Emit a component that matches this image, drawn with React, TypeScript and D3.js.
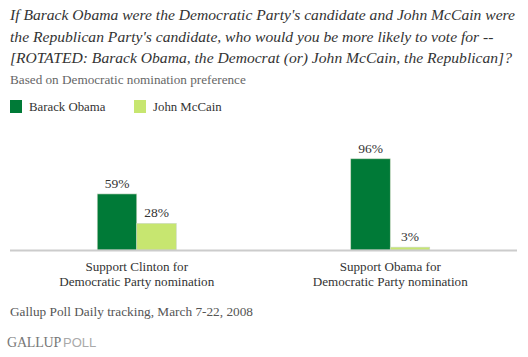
import React from "react";
import * as d3 from "d3";

const categories = [
  ["Support Clinton for", "Democratic Party nomination"],
  ["Support Obama for", "Democratic Party nomination"],
];
const seriesNames = ["Barack Obama", "John McCain"];
const obamaValues = [59, 96];
const mccainValues = [28, 3];
const colors = ["#007A37", "#C7E670"];
const titleLines = [
  "If Barack Obama were the Democratic Party's candidate and John McCain were",
  "the Republican Party's candidate, who would you be more likely to vote for --",
  "[ROTATED: Barack Obama, the Democrat (or) John McCain, the Republican]?",
];
const subtitle = "Based on Democratic nomination preference";
const footnote = "Gallup Poll Daily tracking, March 7-22, 2008";

const W = 528;
const H = 357;
const serif = "'Liberation Serif', 'Times New Roman', serif";

export default function App() {
  const x0 = d3.scaleBand<number>().domain([0, 1]).range([10, 517]);
  const x1 = d3.scaleBand<number>().domain([0, 1]).range([0, 79]);
  const y = d3.scaleLinear().domain([0, 100]).range([250, 155]);
  const series = [obamaValues, mccainValues];

  return (
    <svg width={W} height={H} style={{ position: "absolute", left: 0, top: 0, background: "#fff" }}>
      <g fontFamily={serif} fontStyle="italic" fontSize={15.6} fill="#333">
        {titleLines.map((t, i) => (
          <text key={i} x={10} y={20 + i * 21.5}>{t}</text>
        ))}
      </g>
      <text x={10} y={84} fontFamily={serif} fontSize={13.2} fill="#666">{subtitle}</text>
      {seriesNames.map((s, i) => (
        <g key={s} transform={`translate(${10 + i * 124},100)`}>
          <rect width={12} height={13} fill={colors[i]} />
          <text x={19} y={10.5} fontFamily={serif} fontSize={12.8} fill="#333">{s}</text>
        </g>
      ))}
      {categories.map((c, ci) => {
        const gx = (x0(ci) as number) + x0.bandwidth() / 2 - 39.5;
        return (
          <g key={ci}>
            {series.map((vals, si) => {
              const bx = gx + (x1(si) as number);
              const by = y(vals[ci]);
              return (
                <g key={si}>
                  <rect x={bx} y={by} width={x1.bandwidth()} height={250 - by}
                    fill={colors[si]} stroke="#c8d8c0" strokeWidth={0.6} />
                  <text x={bx + x1.bandwidth() / 2} y={by - 6} textAnchor="middle"
                    fontFamily={serif} fontSize={13.5} fill="#333">{vals[ci]}%</text>
                </g>
              );
            })}
            {c.map((line, li) => (
              <text key={li} x={(x0(ci) as number) + x0.bandwidth() / 2} y={270.5 + li * 15}
                textAnchor="middle" fontFamily={serif} fontSize={13.1} fill="#333">{line}</text>
            ))}
          </g>
        );
      })}
      <line x1={10} x2={517} y1={250.5} y2={250.5} stroke="#ccc" strokeWidth={2} />
      <text x={10} y={316} fontFamily={serif} fontSize={13.3} fill="#555">{footnote}</text>
      <text x={7} y={347} fontSize={14}>
        <tspan fontFamily={serif} fill="#777" letterSpacing={-0.2}>GALLUP</tspan>
        <tspan fontFamily="'Liberation Sans', sans-serif" fill="#aaa" fontSize={13} dx={2}>POLL</tspan>
      </text>
    </svg>
  );
}
